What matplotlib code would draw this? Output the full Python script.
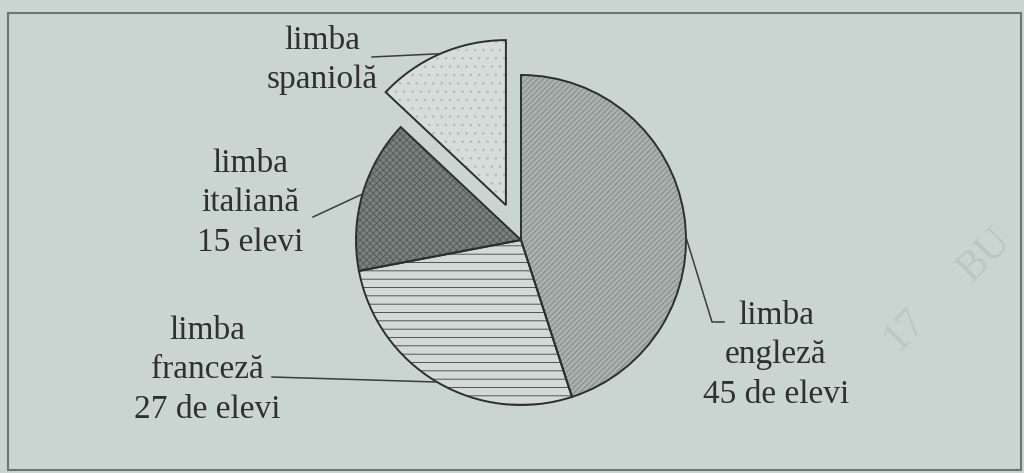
import numpy as np
import matplotlib.pyplot as plt
import matplotlib.patches as mpatches

# -------------------- Data --------------------
languages = ['engleză', 'franceză', 'italiană', 'spaniolă']
students = [45, 27, 15, 13]
labels = ['limba\nengleză\n45 de elevi',
          'limba\nfranceză\n27 de elevi',
          'limba\nitaliană\n15 elevi',
          'limba\nspaniolă']
explode = [0, 0, 0, 38]

# -------------------- Style --------------------
W, H = 1024, 473
bg = '#cad4d0'
face = ['#a9b1ae', '#d3d9d6', '#7a8280', '#d6dcd9']
hatch_col = ['#7e8683', '#3a3f3d', '#525957', '#b3bbb8']
hatches = ['//////', '--', 'xxxxx', '..']

plt.rcParams['font.family'] = ['Liberation Serif', 'DejaVu Serif']
plt.rcParams['hatch.linewidth'] = 0.6

fig = plt.figure(figsize=(W / 100, H / 100), dpi=100, facecolor=bg)
ax = fig.add_axes([0, 0, 1, 1])
ax.set_facecolor(bg)

center = (521, H - 240)
radius = 165

# filled + hatched wedges
wedges, _ = ax.pie(students, center=center, radius=radius, startangle=90,
                   counterclock=False, explode=explode,
                   wedgeprops=dict(linewidth=0))
for w, fc, hc, ht in zip(wedges, face, hatch_col, hatches):
    w.set_facecolor(fc)
    w.set_edgecolor(hc)
    w.set_hatch(ht)

# outlines
outl, _ = ax.pie(students, center=center, radius=radius, startangle=90,
                 counterclock=False, explode=explode,
                 wedgeprops=dict(fill=False, edgecolor='#2b2f2d', linewidth=1.4))

ax.set_xlim(0, W)
ax.set_ylim(0, H)
ax.set_aspect('equal')
ax.axis('off')

# frame around the chart
ax.add_patch(mpatches.Rectangle((8, 3), 1013, H - 16, fill=False,
                                edgecolor='#6d7572', linewidth=1.5))

# -------------------- Labels + leader lines --------------------
# text centre (image px), leader start (image px), angle shift on the arc
text_pos = [(776, 355), (207, 370), (250, 203), (322, 60)]
line_start = [[(724, 322), (712, 322)], [(272, 377)], [(313, 217)], [(372, 57)]]
angle_shift = [-8, 0, 0, 0]

for w, lab, tp, ls, da in zip(outl, labels, text_pos, line_start, angle_shift):
    ax.text(tp[0], H - tp[1], lab, ha='center', va='center', ma='center',
            fontsize=24, color='#2e3130', linespacing=1.38)
    th = np.deg2rad((w.theta1 + w.theta2) / 2 + da)
    ax_pt = (w.center[0] + w.r * np.cos(th), w.center[1] + w.r * np.sin(th))
    xs = [p[0] for p in ls] + [ax_pt[0]]
    ys = [H - p[1] for p in ls] + [ax_pt[1]]
    ax.plot(xs, ys, color='#3a3e3c', linewidth=1.1)

# faint scan watermarks
ax.text(985, H - 255, 'BU', fontsize=30, rotation=45, color='#bcc6c2',
        ha='center', va='center')
ax.text(905, H - 330, '17', fontsize=30, rotation=45, color='#bcc6c2',
        ha='center', va='center')

fig.savefig('out.png', dpi=100, facecolor=bg)
